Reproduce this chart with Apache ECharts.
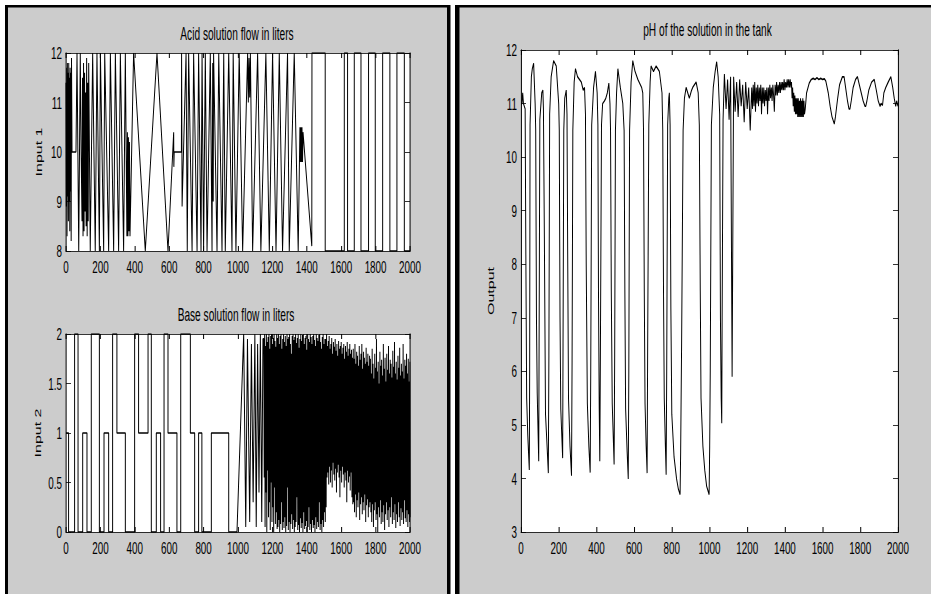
<!DOCTYPE html>
<html>
<head>
<meta charset="utf-8">
<script src="https://cdn.jsdelivr.net/npm/echarts@6/dist/echarts.min.js"></script>
<style>
  html, body { margin: 0; padding: 0; background: #fff; overflow: hidden; width: 931px; height: 594px; }
  #chart { position: absolute; left: 0; top: 0; height: 594px; transform-origin: 0 0; }
</style>
</head>
<body>
<div id="chart"></div>
<script>
// ---- data ---------------------------------------------------------------
const xTicks = [0, 200, 400, 600, 800, 1000, 1200, 1400, 1600, 1800, 2000];

// Input 1: acid solution flow [time, litres]
const acidPts = [
  [0,11.4],[2,8.9],[4,11.7],[6,8.3],[8,11.8],[10,9.1],[12,11.6],[14,8.6],[16,11.8],[18,9.0],
  [20,11.5],[22,8.4],[24,11.7],[26,9.2],[28,11.6],[30,8.2],[32,11.9],[35,10],[58,10],[64,12],
  [74,8],[83,12],[88,10],[93,8.6],[96,11.5],[99,8.3],[102,11.8],[105,8.4],[108,11.6],[111,8.8],
  [114,11.2],[117,8.5],[120,11.9],[123,8.3],[126,11.4],[129,8.6],[132,11.8],[141,8],[155,12],[170,8],
  [180,12],[194,8],[200,12],[219,8],[225,12],[248,8],[258,12],[277,8],[287,12],[306,8],
  [316,12],[335,8],[345,12],[354,8.3],[357,10.4],[360,8.3],[363,10.3],[366,8.4],[369,10.2],[372,8.3],
  [393,12],[461,8],[529,12],[593,8],[626,10.4],[627,9.7],[629,10],[671,10],[672,12],[675,8.9],
  [698,12],[705,8],[713,12],[733,8],[742,12],[762,8],[771,12],[785,8],[791,12],[800,8],
  [810,12],[820,8],[839,12],[849,8],[853,11.8],[856,9.0],[858,12],[878,8],[888,12],[907,8],
  [917,12],[926,8],[946,12],[965,8],[972,12],[988,8],[1007,12],[1027,8],[1056,12],[1060,11.0],
  [1064,11.9],[1068,11.1],[1072,12],[1085,8],[1114,12],[1133,8],[1162,12],[1182,8],[1201,12],[1221,8],
  [1240,12],[1259,8],[1288,12],[1298,8],[1327,12],[1350,8],[1360,10.5],[1363,9.8],[1366,10.5],[1369,9.8],
  [1372,10.5],[1375,9.8],[1378,10.4],[1429,8.1],[1430,12],[1507,12],[1507,8],[1618,8],[1618,12],[1637,12],
  [1637,8],[1676,8],[1676,12],[1715,12],[1715,8],[1759,8],[1759,12],[1798,12],[1798,8],[1841,8],
  [1841,12],[1883,12],[1883,8],[1924,8],[1924,12],[1967,12],[1967,8],[2000,8]
];

// Input 2: base solution flow, stepped part [time, litres]
const baseStepPts = [
  [0,1],[15,1],[15,0],[50,0],[50,2],[70,2],[70,0],[97,0],[97,1],[122,1],
  [122,0],[147,0],[147,2],[194,2],[194,0],[221,0],[221,1],[248,1],[248,0],[271,0],
  [271,2],[296,2],[296,1],[345,1],[345,0],[399,0],[399,2],[422,2],[422,1],[477,1],
  [477,2],[496,2],[496,0],[525,0],[525,1],[550,1],[550,0],[570,0],[570,2],[593,2],
  [593,1],[645,1],[645,0],[667,0],[667,2],[723,2],[723,1],[748,1],[748,0],[771,0],
  [771,1],[790,1],[790,0],[845,0],[845,1],[946,1],[946,0],[994,0],[1033,2],[1045,0.05],
  [1055,1.95],[1068,0.1],[1078,1.9],[1088,0.3],[1098,2],[1106,0.05],[1114,1.9],[1122,0.4],[1130,2],[1138,0.1],
  [1145,1.95]
];
// Input 2, fast switching part: a peak every 5 time units from 1150, each followed by a trough
const baseFastStart = 1150, baseFastStep = 5;
const baseHi = [
  1.95,2.0,1.88,2.0,1.92,1.97,2.0,1.85,1.98,2.0,1.9,1.96,2.0,1.93,1.87,2.0,
  1.96,2.0,1.9,1.98,2.0,1.85,1.95,2.0,1.92,1.98,1.88,2.0,1.95,1.97,2.0,1.9,1.8,1.98,2.0,1.94,
  1.97,2.0,1.91,1.96,2.0,1.86,1.95,2.0,1.93,1.99,2.0,1.9,1.96,1.98,1.84,2.0,1.95,1.92,2.0,1.97,
  1.9,1.98,2.0,1.94,1.88,2.0,1.96,1.93,1.99,2.0,1.92,1.85,1.97,2.0,1.9,1.95,
  1.95,2.0,1.88,1.93,1.98,1.85,1.9,1.96,1.8,1.92,1.87,1.95,1.83,1.9,1.78,1.93,1.85,1.88,1.92,1.8,
  1.86,1.9,1.75,1.88,1.82,1.92,1.78,1.85,1.9,1.8,1.84,1.76,
  1.85,1.75,1.9,1.7,1.82,1.78,1.68,1.88,1.74,1.8,1.9,1.65,1.82,1.76,1.7,1.86,1.72,1.8,1.68,1.78,
  1.75,1.6,1.85,1.7,1.55,1.8,1.66,1.95,1.62,1.72,1.5,1.82,1.68,1.74,1.58,1.9,1.65,1.76,1.52,1.8,
  1.64,1.88,1.6,1.74,1.7,1.56,1.83,1.67,1.92,1.6,1.72,1.54,1.78,1.66,1.86,1.58,1.7,1.62,1.9,1.55,
  1.74,1.68,1.8,1.6,1.75,1.52,1.72
];
const baseLo = [
  0.55,0.05,0.4,0.0,0.62,0.15,0.3,0.02,0.5,0.1,0.25,0.0,0.45,0.08,0.2,0.03,
  0.05,0.12,0.0,0.08,0.3,0.02,0.1,0.04,0.15,0.0,0.06,0.45,0.02,0.1,0.0,0.08,0.18,0.03,0.12,0.0,
  0.05,0.1,0.35,0.02,0.07,0.0,0.14,0.04,0.09,0.0,0.2,0.03,0.06,0.11,0.0,0.05,0.25,0.02,0.08,0.0,
  0.12,0.04,0.07,0.0,0.15,0.03,0.1,0.05,0.3,0.02,0.08,0.0,0.12,0.05,0.2,0.1,
  0.25,0.55,0.6,0.48,0.66,0.5,0.62,0.45,0.7,0.58,0.52,0.64,0.4,0.6,0.68,0.55,0.35,0.62,0.5,0.66,
  0.58,0.45,0.6,0.52,0.3,0.62,0.5,0.56,0.42,0.6,0.35,0.28,
  0.3,0.2,0.38,0.15,0.32,0.25,0.4,0.12,0.28,0.35,0.18,0.3,0.22,0.38,0.1,0.27,0.33,0.15,0.25,0.3,
  0.2,0.1,0.28,0.05,0.22,0.3,0.12,0.18,0.0,0.25,0.15,0.32,0.08,0.2,0.1,0.27,0.02,0.18,0.3,0.12,
  0.22,0.05,0.25,0.15,0.35,0.08,0.2,0.12,0.28,0.04,0.18,0.1,0.3,0.15,0.06,0.24,0.12,0.2,0.08,0.32,
  0.14,0.1,0.22,0.05,0.18,0.1,0.15
];

// Output: pH in the tank [time, pH]
const phPts = [
  [0,11.0],[5,11.0],[9,11.2],[13,11.0],[22,10.9],[26,8.0],[30,5.5],[36,4.8],[44,4.16],[46,6.0],
  [48,10.6],[55,11.5],[60,11.65],[67,11.75],[75,11.0],[78,10.5],[82,7.0],[86,5.6],[94,4.32],[96,6.5],
  [100,10.7],[110,11.2],[116,11.25],[119,10.9],[124,8.5],[130,5.2],[137,4.7],[145,4.1],[148,6.3],[152,10.8],
  [160,11.5],[173,11.8],[187,11.7],[200,11.0],[203,10.5],[207,7.0],[211,5.3],[221,4.38],[223,6.5],[227,10.5],
  [232,11.1],[240,11.25],[244,10.8],[248,8.0],[252,5.5],[260,4.6],[268,4.05],[271,6.2],[275,10.5],[282,11.4],
  [289,11.65],[300,11.5],[320,11.4],[330,11.25],[337,11.3],[342,10.8],[346,8.0],[352,5.4],[360,4.6],[367,4.11],
  [370,6.0],[375,10.6],[385,11.3],[395,11.6],[404,11.2],[408,10.6],[411,7.5],[415,5.3],[418,4.32],[421,6.2],
  [427,10.6],[433,11.0],[443,11.05],[450,11.1],[458,11.2],[466,11.38],[472,11.0],[475,10.5],[479,7.5],[484,5.4],
  [494,4.26],[497,6.3],[501,10.5],[507,11.2],[514,11.65],[527,11.3],[540,11.0],[547,10.5],[551,7.5],[555,5.3],
  [563,4.5],[569,3.99],[572,6.0],[576,10.5],[584,11.4],[593,11.8],[605,11.6],[620,11.45],[640,11.3],[646,11.2],
  [650,10.5],[654,7.5],[658,5.4],[664,4.6],[669,4.1],[672,6.5],[678,10.6],[685,11.4],[690,11.7],[703,11.6],
  [717,11.7],[734,11.6],[748,11.2],[752,10.5],[756,7.5],[760,5.5],[766,4.6],[770,4.07],[773,6.0],[778,10.6],
  [784,11.1],[787,11.2],[791,10.6],[795,7.2],[800,5.2],[812,4.4],[825,4.0],[835,3.8],[844,3.7],[847,4.5],
  [852,6.5],[860,10.5],[867,11.1],[876,11.3],[893,11.1],[905,11.25],[911,11.3],[929,11.4],[940,11.2],[946,10.6],
  [951,7.5],[955,5.5],[965,4.6],[975,4.15],[985,3.85],[998,3.7],[1001,4.6],[1004,6.0],[1010,10.6],[1020,11.3],
  [1030,11.6],[1038,11.78],[1046,11.5],[1054,10.8],[1058,7.0],[1062,5.5],[1065,5.03],[1067,7.0],[1072,10.7],[1079,11.55]
];
// noisy stretch after the last deep dips, sampled every 8 units
const phNoiseAStart = 1088, phNoiseAStep = 8;
const phNoiseA = [10.9,11.45,10.7,11.5,5.9,11.5,10.85,11.4,10.75,11.45,10.95,11.35,10.65,11.4,10.9,11.3,10.5];
// denser band, every 4 units
const phNoiseBStart = 1224, phNoiseBStep = 4;
const phNoiseB = [
  11.3,10.9,11.35,10.95,11.4,10.85,11.3,11.0,11.35,10.95,11.3,11.05,11.35,10.8,11.3,11.0,11.3,10.95,11.25,11.05,
  11.3,10.8,11.3,11.05,11.35,11.1,11.3,11.05,11.35,11.15,10.85,11.35,11.15,11.4,11.15,11.35,11.2,11.4,11.2,11.4,
  11.25,11.4,11.25,11.45,11.25,11.4,11.3,11.45,11.3,11.45,11.3,11.45
];
// solid band around 1450, every 3 units
const phNoiseCStart = 1432, phNoiseCStep = 3;
const phNoiseC = [
  11.3,11.4,11.1,11.3,10.95,11.2,10.85,11.15,10.8,11.1,10.8,11.1,10.75,11.1,10.75,11.05,10.75,11.1,10.75,11.05,
  10.75,11.1,10.75,11.05,10.8
];
const phTail = [
  [1508,10.9],[1515,11.2],[1529,11.38],[1540,11.45],[1550,11.47],[1560,11.45],[1570,11.48],[1580,11.45],[1590,11.47],[1600,11.45],
  [1610,11.46],[1617,11.42],[1630,11.2],[1640,10.95],[1650,10.75],[1662,10.62],[1668,10.75],[1680,11.1],[1690,11.35],[1697,11.42],
  [1705,11.5],[1714,11.5],[1722,11.3],[1732,11.05],[1740,10.9],[1745,10.9],[1752,11.05],[1762,11.3],[1775,11.45],[1785,11.5],
  [1795,11.35],[1805,11.2],[1815,11.05],[1825,10.95],[1829,10.95],[1835,11.05],[1845,11.25],[1860,11.4],[1874,11.45],[1885,11.25],
  [1895,11.05],[1905,10.95],[1910,11.0],[1918,10.97],[1925,11.2],[1935,11.3],[1948,11.4],[1962,11.5],[1972,11.3],[1980,11.1],
  [1988,10.95],[1993,11.05],[2000,10.95]
];

// ---- assemble series data -------------------------------------------------
function sampled(start, step, vals) { return vals.map((v, i) => [start + i * step, v]); }
const baseFast = [];
baseHi.forEach((h, i) => {
  const t = baseFastStart + i * baseFastStep;
  baseFast.push([t, h], [t + baseFastStep / 2, baseLo[i]]);
});
const baseData = baseStepPts.concat(baseFast);
const phData = phPts
  .concat(sampled(phNoiseAStart, phNoiseAStep, phNoiseA))
  .concat(sampled(phNoiseBStart, phNoiseBStep, phNoiseB))
  .concat(sampled(phNoiseCStart, phNoiseCStep, phNoiseC))
  .concat(phTail);

// ---- layout: the figure is drawn in a horizontally condensed frame ----------
const SX = 0.58;                       // horizontal squeeze of the whole figure
const W = Math.round(931 / SX);
const px = x => x / SX;                // final pixel x -> drawing x
const el = document.getElementById('chart');
el.style.width = W + 'px';
el.style.transform = 'scaleX(' + SX + ')';

const tickFont = "'Liberation Sans', Arial, sans-serif";
const labelStyle = { color: '#000', fontFamily: tickFont, fontSize: 17 };

function xAxes(grid) {
  const common = {
    type: 'value', gridIndex: grid, min: xTicks[0], max: xTicks[xTicks.length - 1], interval: xTicks[1] - xTicks[0],
    axisLine: { show: true, onZero: false, lineStyle: { color: '#000', width: 1 } },
    axisTick: { show: true, inside: true, length: 5, lineStyle: { color: '#000', width: 1 / SX } },
    splitLine: { show: false }
  };
  return [
    Object.assign({}, common, {
      position: 'bottom',
      axisLabel: Object.assign({ margin: 7, formatter: v => String(v) }, labelStyle)
    }),
    Object.assign({}, common, { position: 'top', axisLabel: { show: false } })
  ];
}
function yAxes(grid, min, max, interval, name, gap) {
  const common = {
    type: 'value', gridIndex: grid, min: min, max: max, interval: interval,
    axisLine: { show: true, onZero: false, lineStyle: { color: '#000', width: 1 / SX } },
    axisTick: { show: true, inside: true, length: px(5), lineStyle: { color: '#000', width: 1 } },
    splitLine: { show: false }
  };
  return [
    Object.assign({}, common, {
      position: 'left',
      axisLabel: Object.assign({ margin: px(4), formatter: v => String(v) }, labelStyle),
      name: name, nameLocation: 'middle', nameRotate: 90, nameGap: px(gap),
      nameTextStyle: { color: '#000', fontFamily: tickFont, fontSize: 16 }
    }),
    Object.assign({}, common, { position: 'right', axisLabel: { show: false } })
  ];
}

const lineStyle = { color: '#000', width: 1.7 };
function lineSeries(data, axisIdx) {
  return {
    type: 'line', data: data, xAxisIndex: axisIdx, yAxisIndex: axisIdx,
    showSymbol: false, symbol: 'none', smooth: false,
    lineStyle: lineStyle, silent: true, clip: true
  };
}

const titleFont = "'Liberation Sans', Arial, sans-serif";
function titleText(text, x, y) {
  return {
    type: 'text', x: px(x), y: y, z: 10,
    style: { text: text, fill: '#000', font: '17.5px ' + titleFont, textAlign: 'center', textVerticalAlign: 'middle' }
  };
}

const option = {
  animation: false,
  backgroundColor: '#fff',
  grid: [
    { left: px(66), top: 53, width: px(344), height: 198, show: true, backgroundColor: '#fff', borderWidth: 0 },
    { left: px(66), top: 334, width: px(344), height: 198, show: true, backgroundColor: '#fff', borderWidth: 0 },
    { left: px(521), top: 50, width: px(377), height: 482, show: true, backgroundColor: '#fff', borderWidth: 0 }
  ],
  xAxis: [].concat(xAxes(0), xAxes(1), xAxes(2)),
  yAxis: [].concat(
    yAxes(0, 8, 12, 1, 'Input 1', 23),
    yAxes(1, 0, 2, 0.5, 'Input 2', 24),
    yAxes(2, 3, 12, 1, 'Output', 26)
  ),
  series: [
    lineSeries(acidPts, 0),
    lineSeries(baseData, 2),
    lineSeries(phData, 4)
  ],
  graphic: [
    // figure panels with heavy black frames
    { type: 'rect', z: -10, shape: { x: px(5), y: 5, width: px(445.5), height: 700 }, style: { fill: '#000' } },
    { type: 'rect', z: -9, shape: { x: px(8), y: 7.5, width: px(439), height: 700 }, style: { fill: '#cccccc' } },
    { type: 'rect', z: -10, shape: { x: px(455), y: 5, width: px(600), height: 700 }, style: { fill: '#000' } },
    { type: 'rect', z: -9, shape: { x: px(459.5), y: 7.5, width: px(600), height: 700 }, style: { fill: '#cccccc' } },
    titleText('Acid solution flow in liters', 237, 34),
    titleText('Base solution flow in liters', 236, 315),
    titleText('pH of the solution in the tank', 707.5, 29.5)
  ]
};

const chart = echarts.init(el, null, { renderer: 'svg', width: W, height: 594 });
chart.setOption(option);
</script>
</body>
</html>
